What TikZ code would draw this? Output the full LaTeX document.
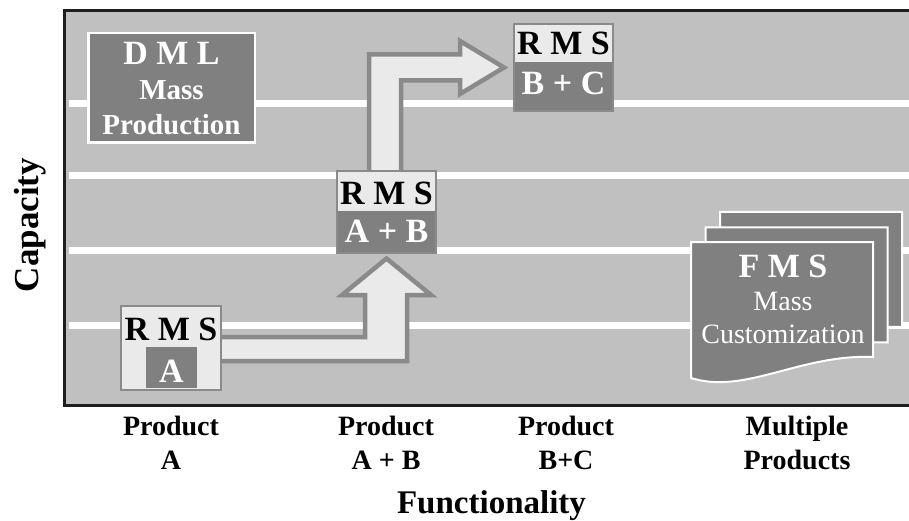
\documentclass[tikz,border=0pt]{standalone}
\usepackage{fontspec}
\setmainfont{Liberation Serif}
\usetikzlibrary{calc}
\definecolor{panel}{HTML}{C0C0C0}
\definecolor{darkf}{HTML}{808080}
\definecolor{lightf}{HTML}{EAEAEA}
\definecolor{edgec}{HTML}{8A8A8A}
\definecolor{framec}{HTML}{1E1E1E}
\newcommand\fbig{\fontsize{34}{34}\selectfont\bfseries}
\newcommand\fmid{\fontsize{29}{29}\selectfont\bfseries}
\newcommand\freg{\fontsize{28}{28}\selectfont}
\newcommand\flab{\fontsize{28}{28}\selectfont\bfseries}
\newcommand\fax{\fontsize{34}{34}\selectfont\bfseries}
\tikzset{
  lbl/.style={inner sep=0, anchor=base},
  wlbl/.style={lbl, text=white},
  rmsbox/.style={draw=edgec, line width=2, fill=lightf, inner sep=0},
  blockarr/.style={draw=edgec, line width=4.5, fill=lightf, line join=miter},
  fmspage/.style={draw=white, line width=2, fill=darkf},
  gridline/.style={white, line width=7},
}
\begin{document}
\begin{tikzpicture}[x=1pt, y=-1pt]
\useasboundingbox (0,0) rectangle (909,521);
\fill[white] (0,0) rectangle (909,521);
% panel
\fill[panel] (64,11) rectangle (912,405);
\draw[framec, line width=3] (912,11) -- (64,11) -- (64,405) -- (912,405);
\foreach \yy in {104,176,250,325} \draw[gridline] (69,\yy) -- (912,\yy);

% DML
\node[draw=white, line width=2.5, fill=darkf, minimum width=166.5, minimum height=109.5, inner sep=0] (dml) at (171.5,88) {};
\node[wlbl] (dmlT) at (171.5,65) {\fbig D M L};
\node[wlbl] (dmlM) at (171.5,100) {\fmid Mass};
\node[wlbl] (dmlP) at (171.5,135) {\fmid Production};

% box positions (defined first so arrows can refer to them)
\coordinate (abc) at (386.5,212);
\coordinate (rAc) at (171,348);
\coordinate (u1) at (369,0);
\coordinate (u2) at (401,0);
\coordinate (l1) at (0,337);
\coordinate (l2) at (0,361);

% B+C box
\node[rmsbox, minimum width=99, minimum height=87,
  path picture={\fill[darkf] (path picture bounding box.south west) rectangle ([yshift=5.5pt]path picture bounding box.east);}]
  (bc) at (563.5,67.5) {};
\node[lbl] (bcT) at (563.5,55) {\fbig R M S};
\node[wlbl] (bcL) at (563.5,95) {\fbig B + C};

% upper block arrow (A+B -> B+C)
\draw[blockarr] (abc -| u1) -- (369,54.5) -- (460,54.5) -- (460,41) -- ([xshift=-9pt]bc.west)
  -- (460,94) -- (460,80.5) -- (401,80.5) -- (abc -| u2) -- cycle;

% lower block arrow (A -> A+B)
\coordinate (abs) at (386.5,258.5);
\draw[blockarr] (rAc |- l1) -- (365,337) -- (365,295) -- (342,295) -- (abs)
  -- (431,295) -- (407,295) -- (407,361) -- (rAc |- l2) -- cycle;

% A+B box
\node[rmsbox, minimum width=99, minimum height=82,
  path picture={\fill[darkf] (path picture bounding box.south west) rectangle ([yshift=1pt]path picture bounding box.east);}]
  (ab) at (abc) {};
\node[lbl] (abT) at (386.5,205) {\fbig R M S};
\node[wlbl] (abL) at (386.5,243) {\fbig A + B};

% A box
\node[rmsbox, minimum width=100, minimum height=84] (rmsA) at (rAc) {};
\node[fill=darkf, minimum width=51, minimum height=41, inner sep=0] (aSq) at (171.5,367.5) {};
\node[lbl] (aT) at (171,340) {\fbig R M S};
\node[wlbl] (aL) at (171.5,382) {\fbig A};

% FMS pages
\begin{scope}[shift={(29,-30)}]
  \filldraw[fmspage] (691,242) -- (873,242) -- (873,357) .. controls (800,354) and (745,395) .. (691,378) -- cycle;
\end{scope}
\begin{scope}[shift={(14.5,-14.5)}]
  \filldraw[fmspage] (691,242) -- (873,242) -- (873,357) .. controls (800,354) and (745,395) .. (691,378) -- cycle;
\end{scope}
\filldraw[fmspage] (691,242) -- (873,242) -- (873,357) .. controls (800,354) and (745,395) .. (691,378) -- cycle;
\node[wlbl] (fmsT) at (783,277) {\fbig F M S};
\node[wlbl] (fmsM) at (783,310) {\freg Mass};
\node[wlbl] (fmsC) at (783,343) {\freg Customization};

% axis labels
\node[lbl] (pA1) at (171,435.5) {\flab Product};
\node[lbl] (pA2) at (171,469) {\flab A};
\node[lbl] (pB1) at (386,435.5) {\flab Product};
\node[lbl] (pB2) at (386,469) {\flab A + B};
\node[lbl] (pC1) at (566,435.5) {\flab Product};
\node[lbl] (pC2) at (566,469) {\flab B+C};
\node[lbl] (pM1) at (797,435.5) {\flab Multiple};
\node[lbl] (pM2) at (797,469) {\flab Products};
\node[lbl] (func) at (491.5,513) {\fontsize{33}{33}\selectfont\bfseries Functionality};
\node[lbl, rotate=90] (capy) at (38,225) {\fontsize{35}{35}\selectfont\bfseries Capacity};
\end{tikzpicture}
\end{document}
